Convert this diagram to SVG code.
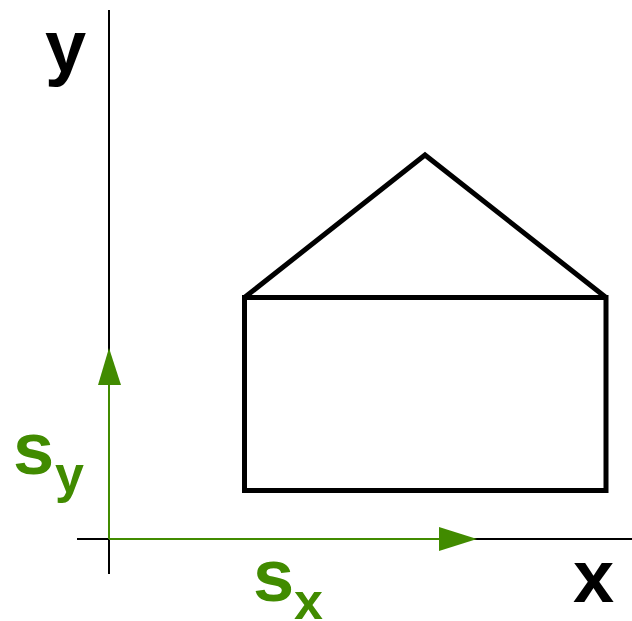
<svg xmlns="http://www.w3.org/2000/svg" width="632" height="621" viewBox="0 0 632 621">
<style>
.axis{stroke:#000;stroke-width:2;fill:none}
.vec{stroke:#418b00;stroke-width:2;fill:none}
.head{fill:#418b00}
.house{stroke:#000;stroke-width:5;fill:none;stroke-linejoin:miter}
.lbl{font-family:"Liberation Sans",Arial,sans-serif;font-weight:bold}
.blk{fill:#000}
.grn{fill:#418b00}
</style>
<rect width="632" height="621" fill="#fff"/>
<g id="axes">
<line class="axis" x1="109" y1="10" x2="109" y2="574"/>
<line class="axis" x1="77" y1="539" x2="632" y2="539"/>
</g>
<g id="house">
<rect class="house" x="244.5" y="297.5" width="361.5" height="193"/>
<polyline class="house" points="244.5,297.5 425,155 606,297.5"/>
</g>
<g id="connectors">
<line class="vec" x1="109" y1="539" x2="109" y2="380"/>
<polygon class="head" points="109,348 121,385 98,385"/>
<line class="vec" x1="109" y1="539" x2="445" y2="539"/>
<polygon class="head" points="477,539 439,527 439,551"/>
</g>
<g id="labels">
<text class="lbl blk" x="45" y="72" font-size="74">y</text>
<text class="lbl blk" x="573" y="602" font-size="74">x</text>
<text class="lbl grn" x="13" y="474" font-size="74">s</text>
<text class="lbl grn" x="55" y="492" font-size="52">y</text>
<text class="lbl grn" x="253" y="601" font-size="74">s</text>
<text class="lbl grn" x="294" y="619" font-size="52">x</text>
</g>
</svg>
